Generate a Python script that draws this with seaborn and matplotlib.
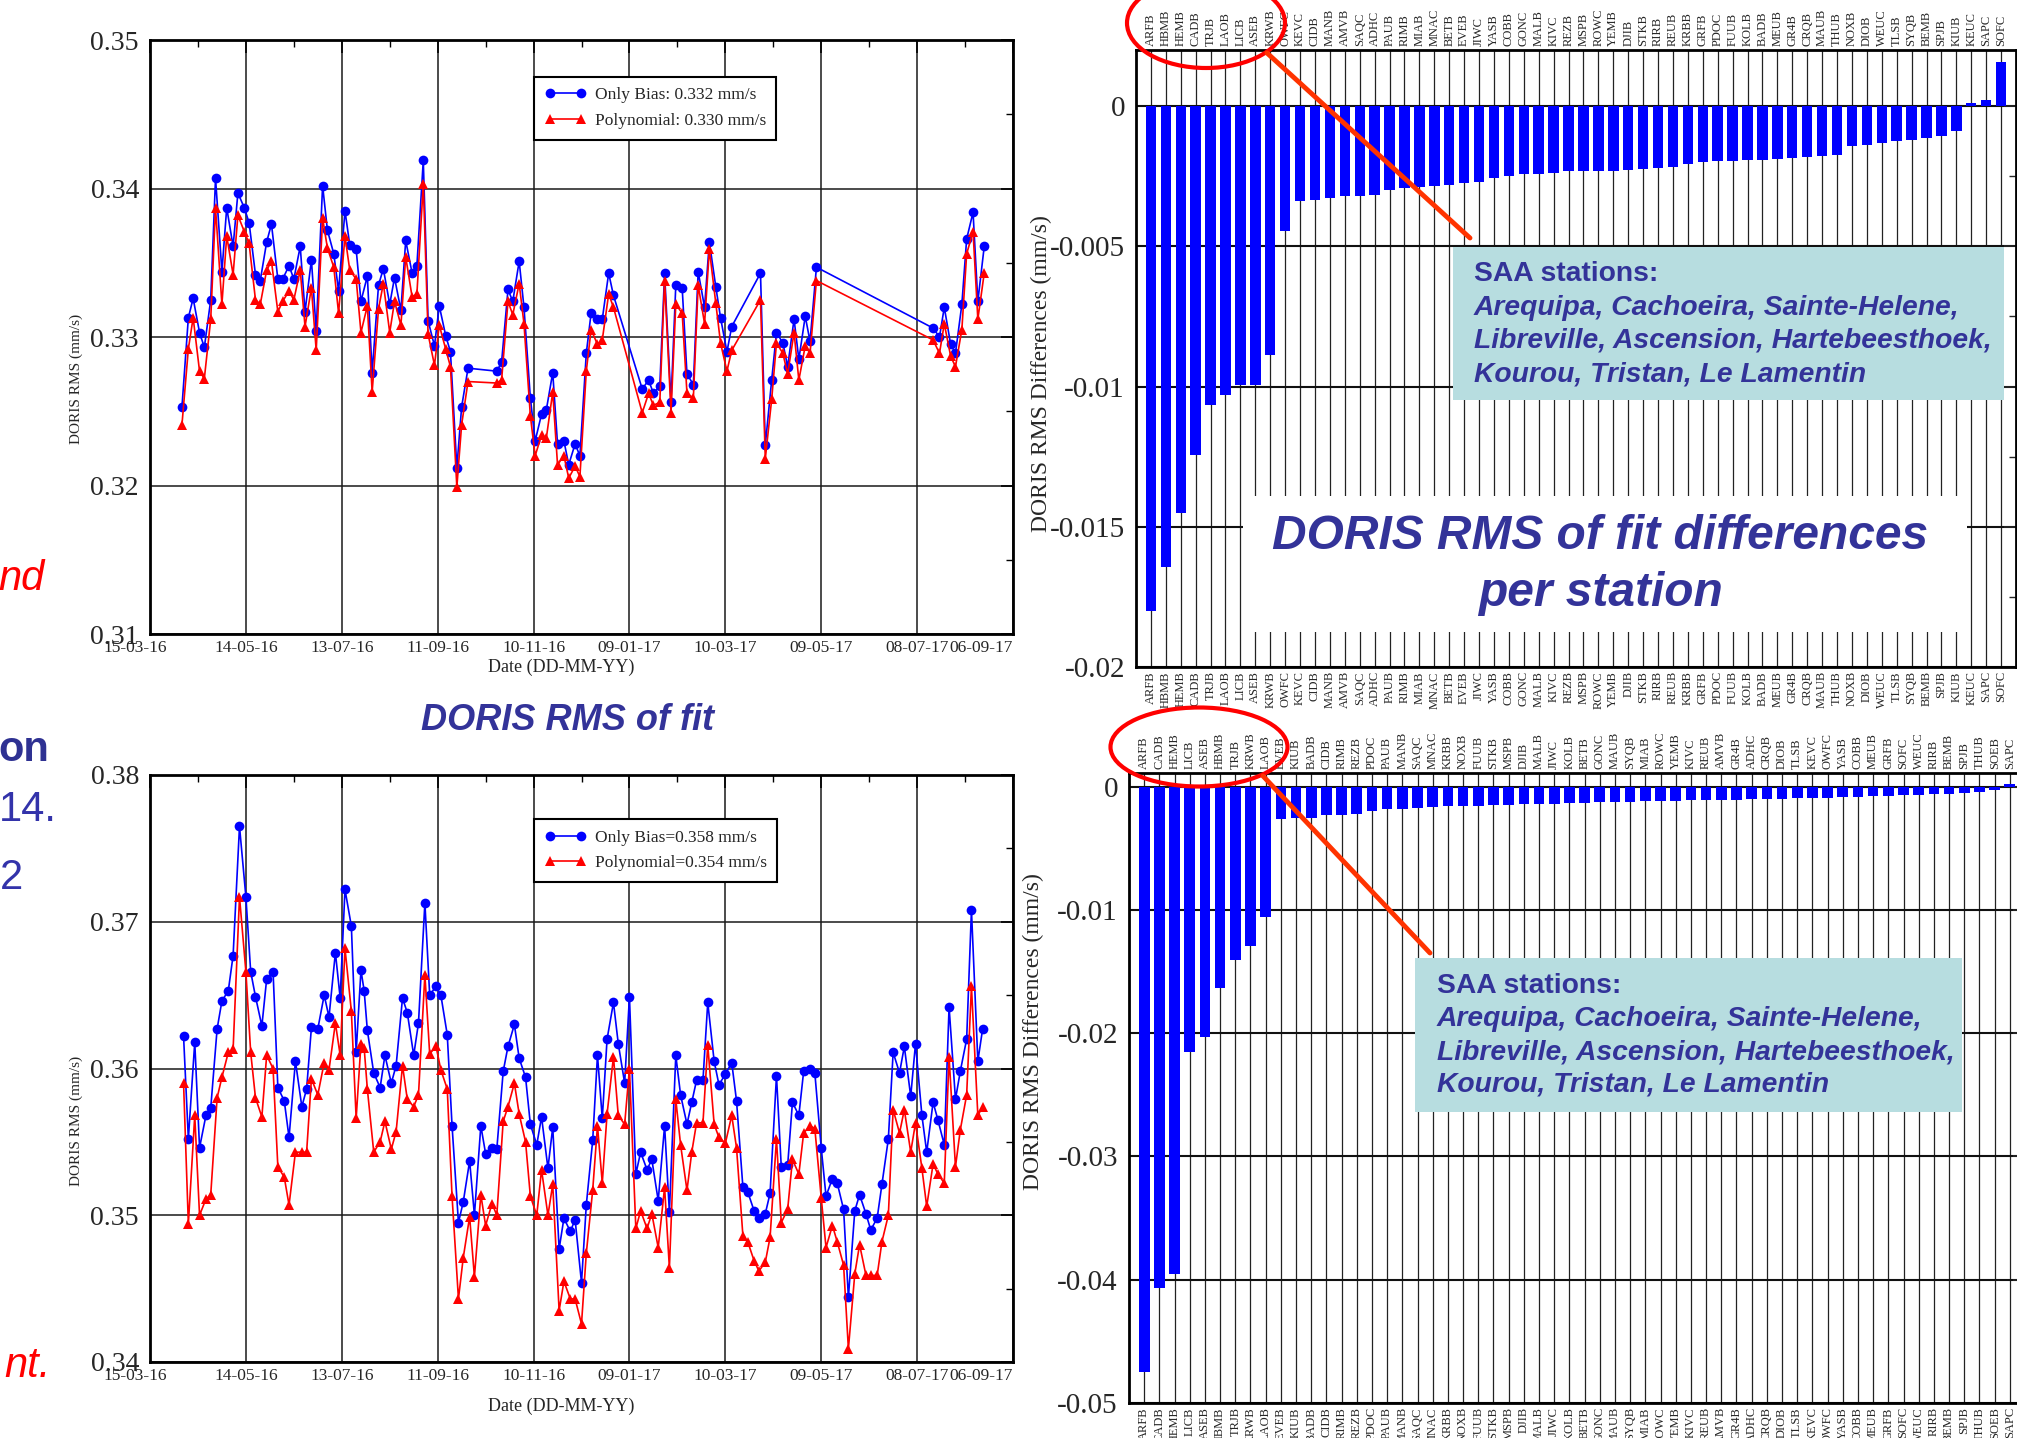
"""DORIS RMS of fit (time series) and per-station RMS differences (bar charts)."""
import matplotlib
matplotlib.use("Agg")
import matplotlib.pyplot as plt
import matplotlib.dates as mdates
import seaborn as sns
import pandas as pd
from matplotlib.lines import Line2D
from matplotlib.patches import Ellipse, Rectangle
from matplotlib.ticker import MultipleLocator, FixedLocator, FuncFormatter
from matplotlib.transforms import ScaledTranslation

W, H = 2017, 1438
START = pd.Timestamp("2016-03-15")
DATE_TICKS = pd.date_range(START, periods=10, freq="60D")
BLUE, RED, TXT = "#0000ff", "#ff0000", "#333399"

# ---- top-left: days since 15-03-16, RMS (mm/s)
TL_DAYS = [20, 24, 27, 31, 34, 38, 41, 45, 48, 52, 55, 59, 62, 66, 69, 73, 76, 80, 83, 87, 90, 94, 97, 101, 104, 108,
           111, 115, 118, 122, 125, 129, 132, 136, 139, 143, 146, 150, 153, 157, 160, 164, 167, 171, 174, 178, 181,
           185, 188, 192, 195, 199,
           217, 220, 224, 227, 231, 234, 238, 241, 245, 248, 252, 255, 259, 262, 266, 269, 273, 276, 280, 283, 287, 290,
           308, 312, 315, 319, 322, 326, 329, 333, 336, 340, 343, 347, 350, 354, 357, 361, 364,
           382, 385, 389, 392, 396, 399, 403, 406, 410, 413, 417,
           490, 494, 497, 501, 504, 508, 511, 515, 518, 522]
TL_BIAS = [0.3253, 0.3313, 0.3326, 0.3303, 0.3293, 0.3325, 0.3407, 0.3344, 0.3387, 0.3361,
           0.3397, 0.3387, 0.3377, 0.3342, 0.3338, 0.3364, 0.3376, 0.3339, 0.3339, 0.3348,
           0.3339, 0.3361, 0.3317, 0.3352, 0.3304, 0.3402, 0.3372, 0.3356, 0.3331, 0.3385,
           0.3362, 0.3359, 0.3324, 0.3341, 0.3276, 0.3335, 0.3346, 0.3322, 0.3340, 0.3318,
           0.3365, 0.3343, 0.3348, 0.3419, 0.3311, 0.3294, 0.3321, 0.3301, 0.3290, 0.3212,
           0.3253, 0.3279,
           0.3277, 0.3283, 0.3332, 0.3324, 0.3351, 0.3320, 0.3259, 0.3230,
           0.3248, 0.3251, 0.3276, 0.3228, 0.3230, 0.3214, 0.3228, 0.3220, 0.3289, 0.3316,
           0.3312, 0.3312, 0.3343, 0.3328,
           0.3265, 0.3271, 0.3262, 0.3267, 0.3343, 0.3256, 0.3335, 0.3333, 0.3275, 0.3268,
           0.3344, 0.3320, 0.3364, 0.3334, 0.3313, 0.3290, 0.3307,
           0.3343, 0.3227, 0.3271, 0.3303, 0.3296, 0.3280, 0.3312, 0.3285, 0.3314, 0.3297, 0.3347,
           0.3306, 0.3300, 0.3320, 0.3295, 0.3289, 0.3322, 0.3366, 0.3384, 0.3324, 0.3361]
TL_POLY = [0.3241, 0.3292, 0.3313, 0.3277, 0.3272, 0.3312, 0.3387, 0.3322, 0.3368, 0.3342,
           0.3382, 0.3371, 0.3363, 0.3325, 0.3322, 0.3345, 0.3351, 0.3317, 0.3324, 0.3331,
           0.3325, 0.3345, 0.3307, 0.3333, 0.3291, 0.3380, 0.3360, 0.3347, 0.3316, 0.3368,
           0.3345, 0.3339, 0.3303, 0.3321, 0.3263, 0.3319, 0.3336, 0.3303, 0.3324, 0.3308,
           0.3354, 0.3327, 0.3329, 0.3403, 0.3302, 0.3281, 0.3308, 0.3292, 0.3280, 0.3199,
           0.3241, 0.3270,
           0.3269, 0.3271, 0.3324, 0.3315, 0.3336, 0.3309, 0.3247, 0.3220,
           0.3234, 0.3232, 0.3263, 0.3214, 0.3220, 0.3205, 0.3213, 0.3206, 0.3277, 0.3305,
           0.3295, 0.3298, 0.3329, 0.3320,
           0.3249, 0.3262, 0.3254, 0.3256, 0.3338, 0.3249, 0.3322, 0.3316, 0.3262, 0.3259,
           0.3335, 0.3309, 0.3359, 0.3323, 0.3296, 0.3277, 0.3291,
           0.3325, 0.3218, 0.3258, 0.3296, 0.3289, 0.3275, 0.3303, 0.3271, 0.3294, 0.3289, 0.3338,
           0.3298, 0.3289, 0.3309, 0.3287, 0.3280, 0.3305, 0.3356, 0.3371, 0.3312, 0.3343]

# ---- bottom-left
BL_DAYS = [21, 24, 28, 31, 35, 38, 42, 45, 49, 52, 56, 60, 63, 66, 70, 73, 77, 80, 84, 87,
           91, 95, 98, 101, 105, 109, 112, 116, 119, 122, 126, 129, 132, 134, 136, 140, 144, 147, 151, 154,
           158, 161, 165, 168, 172, 175, 179, 182, 186, 189, 193, 196, 200, 203, 207, 210, 214, 217, 221, 224,
           228, 231, 235, 238, 242, 245, 249, 252, 256, 259, 263, 266, 270, 273, 277, 280,
           283, 286, 290, 293, 297, 300, 304, 307, 311, 314, 318, 322, 325, 329, 332, 336, 339, 342, 346, 349,
           353, 356, 360, 364, 367, 371, 374, 378, 381, 385, 388, 392, 395, 399, 402, 406, 409, 413, 416, 420,
           423, 427, 430, 434, 437, 441, 444, 448, 451, 455, 458, 462, 465, 469, 472, 476, 479, 483, 486, 490,
           493, 497, 500, 504, 507, 511, 514, 518, 521]
BL_BIAS = [0.3622, 0.3552, 0.3618, 0.3546, 0.3568, 0.3573, 0.3627, 0.3646, 0.3653, 0.3677,
           0.3765, 0.3717, 0.3666, 0.3649, 0.3629, 0.3661, 0.3666, 0.3587, 0.3578, 0.3553,
           0.3605, 0.3574, 0.3586, 0.3628, 0.3627, 0.3650, 0.3635, 0.3679, 0.3648, 0.3722,
           0.3697, 0.3611, 0.3667, 0.3653, 0.3626, 0.3597, 0.3587, 0.3609, 0.3590, 0.3602,
           0.3648, 0.3638, 0.3609, 0.3631, 0.3713, 0.3650, 0.3656, 0.3650, 0.3623, 0.3561,
           0.3495, 0.3509, 0.3537, 0.3500, 0.3561, 0.3542, 0.3546, 0.3545, 0.3598, 0.3615,
           0.3630, 0.3607, 0.3594, 0.3562, 0.3548, 0.3567, 0.3532, 0.3560, 0.3477, 0.3498,
           0.3489, 0.3497, 0.3454, 0.3507, 0.3551, 0.3609,
           0.3566, 0.3620, 0.3645, 0.3617, 0.3590, 0.3649, 0.3528, 0.3543, 0.3531, 0.3538,
           0.3510, 0.3561, 0.3502, 0.3609, 0.3582, 0.3562, 0.3577, 0.3592, 0.3592, 0.3645,
           0.3605, 0.3589, 0.3596, 0.3604, 0.3578, 0.3519, 0.3516, 0.3503, 0.3498, 0.3501,
           0.3515, 0.3595, 0.3533, 0.3534, 0.3577, 0.3568, 0.3598, 0.3600, 0.3597, 0.3546,
           0.3513, 0.3525, 0.3522, 0.3504, 0.3444, 0.3503, 0.3514, 0.3501, 0.3490, 0.3498,
           0.3521, 0.3552, 0.3611, 0.3597, 0.3615, 0.3581, 0.3617, 0.3568, 0.3543, 0.3577,
           0.3565, 0.3548, 0.3642, 0.3579, 0.3598, 0.3620, 0.3708, 0.3605, 0.3627]
BL_POLY = [0.3590, 0.3494, 0.3568, 0.3500, 0.3511, 0.3514, 0.3580, 0.3594, 0.3611, 0.3613,
           0.3717, 0.3666, 0.3611, 0.3580, 0.3567, 0.3609, 0.3600, 0.3533, 0.3526, 0.3507,
           0.3543, 0.3543, 0.3543, 0.3593, 0.3582, 0.3604, 0.3599, 0.3631, 0.3609, 0.3682,
           0.3639, 0.3566, 0.3617, 0.3614, 0.3586, 0.3543, 0.3550, 0.3564, 0.3545, 0.3557,
           0.3602, 0.3579, 0.3574, 0.3582, 0.3664, 0.3610, 0.3615, 0.3599, 0.3586, 0.3513,
           0.3443, 0.3471, 0.3499, 0.3458, 0.3514, 0.3493, 0.3508, 0.3500, 0.3564, 0.3574,
           0.3590, 0.3569, 0.3550, 0.3513, 0.3500, 0.3531, 0.3500, 0.3521, 0.3435, 0.3455,
           0.3443, 0.3443, 0.3426, 0.3474, 0.3517, 0.3561,
           0.3522, 0.3569, 0.3608, 0.3568, 0.3562, 0.3600, 0.3491, 0.3503, 0.3491, 0.3501,
           0.3478, 0.3519, 0.3464, 0.3579, 0.3548, 0.3517, 0.3543, 0.3563, 0.3563, 0.3616,
           0.3562, 0.3553, 0.3549, 0.3568, 0.3546, 0.3486, 0.3482, 0.3469, 0.3462, 0.3468,
           0.3485, 0.3552, 0.3495, 0.3504, 0.3538, 0.3528, 0.3556, 0.3561, 0.3559, 0.3512,
           0.3478, 0.3493, 0.3482, 0.3466, 0.3409, 0.3460, 0.3480, 0.3459, 0.3459, 0.3459,
           0.3482, 0.3500, 0.3572, 0.3556, 0.3572, 0.3543, 0.3563, 0.3532, 0.3506, 0.3535,
           0.3528, 0.3522, 0.3608, 0.3533, 0.3558, 0.3582, 0.3656, 0.3568, 0.3574]

# ---- top-right: per-station difference (mm/s)
TR_STATIONS = ["ARFB", "HBMB", "HEMB", "CADB", "TRJB", "LAOB", "LICB", "ASEB", "KRWB", "OWFC", "KEVC", "CIDB",
               "MANB", "AMVB", "SAQC", "ADHC", "PAUB", "RIMB", "MIAB", "MNAC", "BETB", "EVEB", "JIWC", "YASB",
               "COBB", "GONC", "MALB", "KIVC", "REZB", "MSPB", "ROWC", "YEMB", "DJIB", "STKB", "RIRB", "REUB",
               "KRBB", "GRFB", "PDOC", "FUUB", "KOLB", "BADB", "MEUB", "GR4B", "CRQB", "MAUB", "THUB", "NOXB",
               "DIOB", "WEUC", "TLSB", "SYQB", "BEMB", "SPJB", "KIUB", "KEUC", "SAPC", "SOFC"]
TR_DIFF = [-0.0180, -0.01645, -0.01451, -0.01243, -0.01066, -0.0103, -0.00996, -0.00996, -0.00886,
           -0.00447, -0.00339, -0.00336, -0.00326, -0.00322, -0.0032, -0.00316, -0.00299, -0.00293, -0.0029,
           -0.00286, -0.0028, -0.00275, -0.0027,
           -0.00257, -0.0025, -0.00243, -0.00241, -0.00237, -0.00233, -0.00233, -0.0023, -0.0023, -0.00228,
           -0.00225, -0.00221, -0.00217, -0.00207, -0.00201, -0.00197, -0.00195, -0.00193, -0.00191, -0.00188,
           -0.00186, -0.00182, -0.00178, -0.00175,
           -0.00141, -0.00138, -0.00133, -0.00125, -0.00122, -0.00112, -0.00108, -0.00088,
           0.0001, 0.0002, 0.00157]

# ---- bottom-right
BR_STATIONS = ["ARFB", "CADB", "HEMB", "LICB", "ASEB", "HBMB", "TRJB", "KRWB", "LAOB", "EVEB", "KIUB", "BADB",
               "CIDB", "RIMB", "REZB", "PDOC", "PAUB", "MANB", "SAQC", "MNAC", "KRBB", "NOXB", "FUUB", "STKB",
               "MSPB", "DJIB", "MALB", "JIWC", "KOLB", "BETB", "GONC", "MAUB", "SYQB", "MIAB", "ROWC", "YEMB",
               "KIVC", "REUB", "AMVB", "GR4B", "ADHC", "CRQB", "DIOB", "TLSB", "KEVC", "OWFC", "YASB", "COBB",
               "MEUB", "GRFB", "SOFC", "WEUC", "RIRB", "BEMB", "SPJB", "THUB", "SOEB", "SAPC"]
BR_DIFF = [-0.0475, -0.0407, -0.0395, -0.0215, -0.0203, -0.0163, -0.0141, -0.0129, -0.0106,
           -0.00264, -0.00257, -0.00251, -0.00231, -0.00228, -0.00224, -0.00198, -0.00185, -0.00182, -0.00172,
           -0.00165, -0.00158, -0.00158, -0.00155, -0.00152, -0.00149, -0.00145, -0.00142, -0.00139, -0.00132,
           -0.00132, -0.00129, -0.00125, -0.00122, -0.00119, -0.00119, -0.00116, -0.00112, -0.00109, -0.00109,
           -0.00106, -0.00102, -0.00099, -0.00099, -0.00096, -0.00092, -0.00089, -0.00086, -0.00083, -0.00079,
           -0.00073, -0.00069, -0.00066, -0.00063, -0.00059, -0.00053, -0.00043,
           -0.0003, 0.0002]

SAA_LINES = ["Arequipa, Cachoeira, Sainte-Helene,", "Libreville, Ascension, Hartebeesthoek,",
             "Kourou, Tristan, Le Lamentin"]
SANS = ["Liberation Sans", "DejaVu Sans"]


def fx(x):
    return x / W


def fy(y):
    return 1 - y / H


def rect(l, t, r, b):
    return [fx(l), fy(b), (r - l) / W, (b - t) / H]


def frame(ax):
    for s in ax.spines.values():
        s.set_visible(True); s.set_color("black"); s.set_linewidth(2)


def tick_fmt(v, _):
    v = round(v, 4)
    return "0" if v == 0 else f"{v:g}"


def rms_panel(ax, days, bias, poly, labels, ylim, ylab_y, xlab_y, leg_y):
    dates = START + pd.to_timedelta(days, unit="D")
    df = pd.concat([pd.DataFrame({"date": dates, "rms": bias, "fit": "bias"}),
                    pd.DataFrame({"date": dates, "rms": poly, "fit": "poly"})], ignore_index=True)
    sns.lineplot(data=df, x="date", y="rms", hue="fit", style="fit", markers=["o", "^"], dashes=False,
                 palette=[BLUE, RED], estimator=None, sort=False, lw=1.2, markersize=7, markeredgewidth=0,
                 legend=False, ax=ax)
    ax.set_xlim(START, START + pd.Timedelta(days=540)); ax.set_ylim(*ylim)
    ax.xaxis.set_major_locator(FixedLocator(mdates.date2num(DATE_TICKS)))
    ax.xaxis.set_minor_locator(FixedLocator(mdates.date2num(pd.date_range(START, periods=19, freq="30D"))))
    ax.xaxis.set_major_formatter(mdates.DateFormatter("%d-%m-%y"))
    ax.yaxis.set_major_locator(MultipleLocator(0.01)); ax.yaxis.set_minor_locator(MultipleLocator(0.005))
    ax.yaxis.set_major_formatter(FuncFormatter(lambda v, _: f"{v:.2f}"))
    ax.grid(True, which="major", color="#1a1a1a", lw=1.1)
    ax.tick_params(which="both", direction="in", top=True, right=True, color="black")
    ax.tick_params(which="major", length=9, width=1.2); ax.tick_params(which="minor", length=5, width=1.0)
    ax.tick_params(axis="y", labelsize=20, pad=8); ax.tick_params(axis="x", labelsize=12.5, pad=4)
    ax.set_xlabel("Date (DD-MM-YY)", fontsize=13, va="top"); ax.xaxis.set_label_coords(0.476, xlab_y)
    ax.set_ylabel("DORIS RMS (mm/s)", fontsize=11); ax.yaxis.set_label_coords(-0.078, ylab_y)
    frame(ax)
    handles = [Line2D([], [], color=BLUE, marker="o", ms=7, mew=0, lw=1.2),
               Line2D([], [], color=RED, marker="^", ms=7, mew=0, lw=1.2)]
    leg = ax.legend(handles, labels, loc="upper left", bbox_to_anchor=(0.445, leg_y), numpoints=2,
                    handlelength=2.4, handletextpad=0.5, fontsize=12.5, fancybox=False, edgecolor="black",
                    framealpha=1, borderpad=0.6, labelspacing=0.55, borderaxespad=0)
    leg.get_frame().set_linewidth(1.5)
    # the end date labels sit a little to the left of their ticks
    ticklabels = ax.get_xticklabels()
    ticklabels[0].set_transform(ticklabels[0].get_transform() + ScaledTranslation(-0.15, 0, fig.dpi_scale_trans))
    ticklabels[-1].set_horizontalalignment("right")


def diff_panel(ax, stations, diffs, ylim, major, minor, ylab_y):
    sns.barplot(x=stations, y=diffs, color=BLUE, saturation=1, width=0.7, errorbar=None, linewidth=0, ax=ax)
    ax.set_xlim(-1, len(stations)); ax.set_ylim(*ylim)
    ax.set_axisbelow(True)
    ax.yaxis.set_major_locator(MultipleLocator(major)); ax.yaxis.set_minor_locator(MultipleLocator(minor))
    ax.yaxis.set_major_formatter(FuncFormatter(tick_fmt))
    ax.xaxis.grid(True, color="#222222", lw=0.9); ax.yaxis.grid(True, color="#111111", lw=1.5)
    ax.tick_params(axis="x", labeltop=True, labelbottom=True, labelrotation=90, length=0, labelsize=9, pad=3)
    ax.tick_params(axis="y", which="both", direction="in", right=True, labelsize=21, pad=8)
    ax.tick_params(axis="y", which="major", length=9, width=1.2)
    ax.tick_params(axis="y", which="minor", length=5, width=1.0)
    ax.set_xlabel("")
    ax.set_ylabel("DORIS RMS Differences (mm/s)", fontsize=17); ax.yaxis.set_label_coords(-0.095, ylab_y)
    frame(ax)


def saa_box(l, t, r, b, x, ys):
    fig.add_artist(Rectangle((fx(l), fy(b)), (r - l) / W, (b - t) / H, transform=fig.transFigure,
                             facecolor="#b7dde0", edgecolor="none", zorder=5))
    fig.text(fx(x), fy(ys[0]), "SAA stations:", family=SANS, weight="bold", fontsize=20.3, color=TXT,
             va="center", zorder=6)
    for y, line in zip(ys[1:], SAA_LINES):
        fig.text(fx(x), fy(y), line, family=SANS, weight="bold", style="italic", fontsize=20.3, color=TXT,
                 va="center", zorder=6)


def callout(center, w, h, start, end):
    fig.add_artist(Ellipse((fx(center[0]), fy(center[1])), w / W, h / H, transform=fig.transFigure,
                           fill=False, edgecolor="#ff0000", lw=3, zorder=7))
    fig.add_artist(Line2D([fx(start[0]), fx(end[0])], [fy(start[1]), fy(end[1])], transform=fig.transFigure,
                          color="#ff3300", lw=3.5, zorder=7))


sns.set_theme(style="white")
plt.rcParams["font.family"] = ["Liberation Serif", "DejaVu Serif"]
plt.rcParams["axes.unicode_minus"] = False

fig = plt.figure(figsize=(W / 100, H / 100), dpi=100)
fig.patch.set_facecolor("white")

ax_tl = fig.add_axes(rect(150, 40, 1013, 634))
rms_panel(ax_tl, TL_DAYS, TL_BIAS, TL_POLY, ["Only Bias: 0.332 mm/s", "Polynomial: 0.330 mm/s"],
          (0.31, 0.35), 0.43, -0.042, 0.938)
ax_bl = fig.add_axes(rect(150, 775, 1013, 1362))
rms_panel(ax_bl, BL_DAYS, BL_BIAS, BL_POLY, ["Only Bias=0.358 mm/s", "Polynomial=0.354 mm/s"],
          (0.34, 0.38), 0.41, -0.06, 0.925)

ax_tr = fig.add_axes(rect(1136, 50, 2016, 667))
diff_panel(ax_tr, TR_STATIONS, TR_DIFF, (-0.02, 0.002), 0.005, 0.0025, 0.476)
ax_br = fig.add_axes(rect(1129, 773, 2025, 1403))
diff_panel(ax_br, BR_STATIONS, BR_DIFF, (-0.05, 0.0011), 0.01, 0.005, 0.59)

# annotations over the figure
fig.text(fx(567), fy(720), "DORIS RMS of fit", family=SANS, weight="bold", style="italic", fontsize=26,
         color=TXT, ha="center", va="center")
fig.add_artist(Rectangle((fx(1243), fy(632)), (1967 - 1243) / W, (632 - 496) / H, transform=fig.transFigure,
                         facecolor="white", edgecolor="none", zorder=5))
fig.text(fx(1600), fy(536), "DORIS RMS of fit differences", family=SANS, weight="bold", style="italic",
         fontsize=34.5, color=TXT, ha="center", va="center", zorder=6)
fig.text(fx(1600), fy(594), "per station", family=SANS, weight="bold", style="italic",
         fontsize=34.5, color=TXT, ha="center", va="center", zorder=6)
saa_box(1453, 247, 2004, 400, 1474, [274, 308, 341, 374])
saa_box(1415, 958, 1962, 1112, 1437, [986, 1019, 1052, 1085])
callout((1206, 23), 158, 90, (1267, 53), (1470, 238))
callout((1199, 747), 177, 79, (1263, 776), (1430, 953))

# slide text cut off at the left edge
for x, y, s, kw in [(45, 579, "nd", dict(style="italic", color="#ff0000")),
                    (49, 750, "on", dict(weight="bold", color="#2e3192")),
                    (57, 810, "14.", dict(color="#3333aa")),
                    (23, 878, "2", dict(color="#3333aa")),
                    (51, 1366, "nt.", dict(style="italic", color="#ff0000"))]:
    fig.text(fx(x), fy(y), s, family=SANS, fontsize=30, ha="right", va="center", **kw)

fig.savefig("out.png", dpi=100, facecolor="white")
